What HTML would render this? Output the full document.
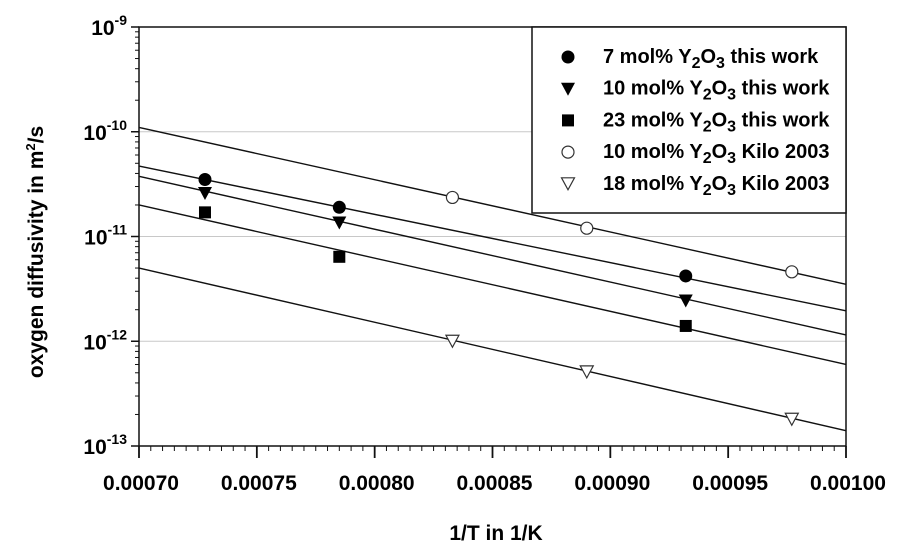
<!DOCTYPE html>
<html><head><meta charset="utf-8"><style>
body{margin:0;background:#fff;}
svg{display:block;font-family:"Liberation Sans",Arial,sans-serif;font-weight:bold;}
</style></head><body>
<svg id="chart" width="916" height="559"></svg>
<script>
const seriesNames=["7 mol% this work","10 mol% this work","23 mol% this work","10 mol% Kilo 2003","18 mol% Kilo 2003"];
const x7=[0.000728,0.000785,0.000932];
const y7=[3.5e-11,1.9e-11,4.2e-12];
const x10=[0.000728,0.000785,0.000932];
const y10=[2.6e-11,1.36e-11,2.45e-12];
const x23=[0.000728,0.000785,0.000932];
const y23=[1.7e-11,6.4e-12,1.4e-12];
const xK10=[0.000833,0.00089,0.000977];
const yK10=[2.36e-11,1.2e-11,4.6e-12];
const xK18=[0.000833,0.00089,0.000977];
const yK18=[1.0e-12,5.1e-13,1.8e-13];
const lineStartY=[4.7e-11,3.75e-11,2.0e-11,1.1e-10,5e-12];
const lineEndY=[1.95e-12,1.15e-12,6e-13,3.5e-12,1.4e-13];
const xTicks=[0.0007,0.00075,0.0008,0.00085,0.0009,0.00095,0.001];
const xTickLabels=["0.00070","0.00075","0.00080","0.00085","0.00090","0.00095","0.00100"];
const yExps=[-9,-10,-11,-12,-13];

const L=139,R=846,T=27,B=446;
const X0=0.0007,X1=0.001;
const sx=v=>L+(v-X0)/(X1-X0)*(R-L);
const sy=v=>T+(-9-Math.log10(v))/4*(B-T);
const NS="http://www.w3.org/2000/svg";
const svg=document.getElementById('chart');
function mk(tag,attrs,parent){const e=document.createElementNS(NS,tag);for(const k in attrs)e.setAttribute(k,attrs[k]);(parent||svg).appendChild(e);return e;}

[-10,-11,-12].forEach(ex=>{
 const g=mk('line',{x1:L,x2:R,y1:sy(Math.pow(10,ex)),y2:sy(Math.pow(10,ex)),stroke:'#c8c8c8','stroke-width':1});
 
 
});
for(let i=0;i<5;i++){
 const l=mk('line',{x1:sx(X0),y1:sy(lineStartY[i]),x2:sx(X1),y2:sy(lineEndY[i]),stroke:'#111','stroke-width':1.4});
 
 
}
function marker(type,cx,cy,parent){
 let e;
 if(type==='circle')e=mk('circle',{cx:cx,cy:cy,r:6.5,fill:'#000'},parent);
 else if(type==='tri')e=mk('polygon',{points:`${cx-7},${cy-6} ${cx+7},${cy-6} ${cx},${cy+7}`,fill:'#000'},parent);
 else if(type==='square')e=mk('rect',{x:cx-6,y:cy-6,width:12,height:12,fill:'#000'},parent);
 else if(type==='ocircle')e=mk('circle',{cx:cx,cy:cy,r:6,fill:'#fff',stroke:'#333','stroke-width':1.2},parent);
 else e=mk('polygon',{points:`${cx-6.5},${cy-6} ${cx+6.5},${cy-6} ${cx},${cy+6}`,fill:'#fff',stroke:'#333','stroke-width':1.2},parent);
 return e;
}
const sets=[[x7,y7,'circle'],[x10,y10,'tri'],[x23,y23,'square'],[xK10,yK10,'ocircle'],[xK18,yK18,'otri']];
sets.forEach((s,i)=>{
 s[0].forEach((xv,j)=>{
  const m=marker(s[2],sx(xv),sy(s[1][j]));
  
  
 });
});
const fr=mk('rect',{x:L,y:T,width:R-L,height:B-T,fill:'none',stroke:'#111','stroke-width':1.5});


yExps.forEach(ex=>{
 const y=sy(Math.pow(10,ex));
 mk('line',{x1:L-8,x2:L,y1:y,y2:y,stroke:'#111','stroke-width':1.5});
 const t=mk('text',{x:L-12,y:y+8,'text-anchor':'end','font-size':21});
 
 
 t.innerHTML='10<tspan dy="-10" font-size="14">'+ex+'</tspan>';
 if(ex>-13)for(let k=2;k<10;k++){const yy=sy(k*Math.pow(10,ex-1));mk('line',{x1:L-4,x2:L,y1:yy,y2:yy,stroke:'#111','stroke-width':1});}
});
for(let v=0;v<=60;v++){
 const xv=X0+v*0.000005;const x=sx(xv);
 mk('line',{x1:x,x2:x,y1:B,y2:B+(v%10===0?12:5),stroke:'#111','stroke-width':v%10===0?1.8:1});
}
xTicks.forEach((xv,i)=>{
 const t=mk('text',{x:sx(xv)+2,y:B+44,'text-anchor':'middle','font-size':21});
 t.textContent=xTickLabels[i];
 
 
});
const xt=mk('text',{x:496,y:540,'text-anchor':'middle','font-size':21});
xt.textContent='1/T in 1/K';


const yt=mk('text',{x:0,y:0,'text-anchor':'middle','font-size':21,transform:'translate(43,252) rotate(-90)'});
yt.innerHTML='oxygen diffusivity in m<tspan dy="-8" font-size="13">2</tspan><tspan dy="8">/s</tspan>';


const lg=mk('g',{});


mk('rect',{x:532,y:T,width:R-532,height:186,fill:'#fff',stroke:'#111','stroke-width':1.5},lg);
const ltypes=['circle','tri','square','ocircle','otri'];
const ltexts=[['7','this work'],['10','this work'],['23','this work'],['10','Kilo 2003'],['18','Kilo 2003']];
for(let i=0;i<5;i++){
 const y=57+i*31.7;
 const e=mk('g',{},lg);
 
 
 marker(ltypes[i],568,y,e);
 const t=mk('text',{x:603,y:y+6,'font-size':20},e);
 t.innerHTML=ltexts[i][0]+' mol% Y<tspan dy="5" font-size="16">2</tspan><tspan dy="-5">O</tspan><tspan dy="5" font-size="16">3</tspan><tspan dy="-5"> '+ltexts[i][1]+'</tspan>';
}
</script>
</body></html>
